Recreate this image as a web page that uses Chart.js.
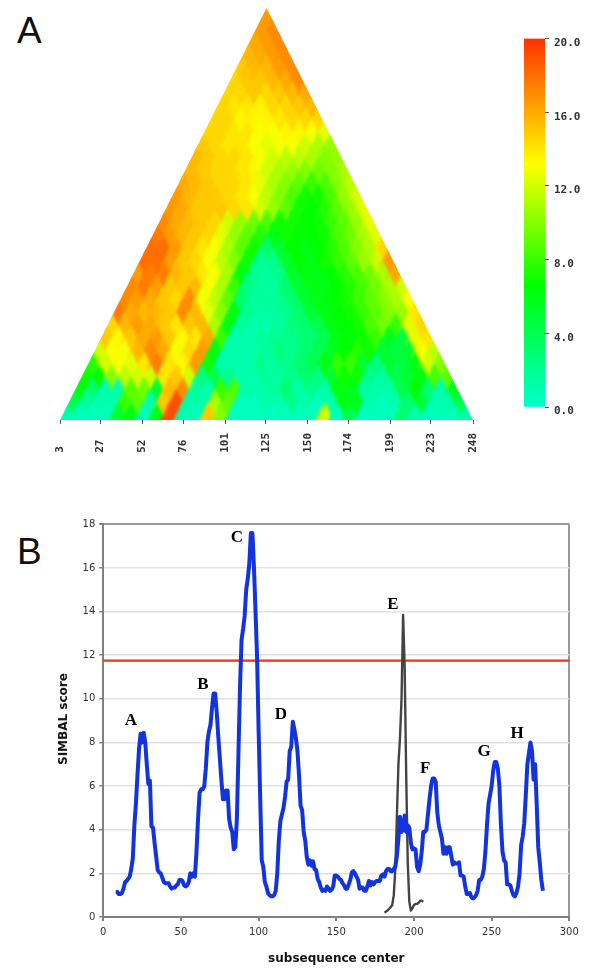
<!DOCTYPE html>
<html>
<head>
<meta charset="utf-8">
<title>SIMBAL</title>
<script src="https://cdn.jsdelivr.net/npm/chart.js@4"></script>
<style>
  body { margin: 0; background: #fff; width: 600px; height: 977px; position: relative; overflow: hidden; }
  canvas { position: absolute; }
  .panel { position: absolute; left: 17px; font: 37px "Liberation Sans", sans-serif; color: #111; line-height: 37px; }
  .ytitle { position: absolute; left: 63px; top: 719px; transform: translate(-50%, -50%) rotate(-90deg); font: bold 12px "DejaVu Sans", sans-serif; color: #111; white-space: nowrap; }
</style>
</head>
<body>
<div class="panel" style="top:12px">A</div>
<div class="panel" style="top:533px">B</div>
<canvas id="heatChart" style="left:0;top:0"></canvas>
<canvas id="barChart" style="left:524px;top:27px"></canvas>
<canvas id="lineChart" style="left:0;top:510px"></canvas>
<div class="ytitle">SIMBAL score</div>
<script>
// panel A, triangle cells, top row first (row n has n+1 cells)
const heatRows = [
  [16.5],
  [16.5,17],
  [16,16.5,17],
  [15.5,16,16.5,17],
  [15,15.5,15.5,16.5,17],
  [14.5,15,15,15.5,16,17],
  [14.5,14.5,15,14.5,15,15.5,16],
  [14.5,14,14,13.5,14.5,14.5,15,15.5],
  [14.5,14.5,13.5,13.5,13.5,14,14.5,14.5,14.5],
  [14.5,14.5,14,14,13,13,13.5,13.5,13,12.5],
  [15,14.5,14,14,13,12.5,13,13,12,11,10.5],
  [15.5,15,14.5,14.5,14,13,12,11.5,11.5,11,10,10.5],
  [15.5,15,14.5,14.5,14,13.5,12,11,10.5,10,9.5,10,11],
  [16,15.5,15,14.5,14.5,14,12.5,11,10,9,8,8.5,10,11.5],
  [16.5,15.5,15,15,14.5,14,13,11.5,10,8.5,7,7,8.5,10.5,12],
  [16.5,16,15,15,15,14.5,14,12,10.5,9,7,6.5,7.5,9,10.5,12.5],
  [17,16,15.5,15,14.5,12,10.5,9.5,8.5,7,7,6.5,7,8,9,10.5,12.5],
  [17.5,16.5,15.5,15,14.5,12.5,10.5,9,7.5,6,7,6.5,6.5,7,8.5,9.5,11,12.5],
  [18,18,16.5,15,14,13,11,9,7,3,5,6.5,6,6.5,7.5,8.5,10,11,14.5],
  [18,18,16.5,15,14.5,13,11.5,10,7,2,2,5,6.5,6,7,8,9,10.5,12,16.5],
  [16.5,17.5,17.5,15.5,15,14,13,11,6,2,1.5,2,5,6,6,6.5,7.5,8.5,9.5,11,16],
  [17,17.5,16.5,15,15,15.5,13,11,8,2.5,1.5,1.5,3,5,6,6,6.5,7.5,8.5,9.5,11,12],
  [17,16.5,16,15,14.5,17,13,11.5,9,3,1.5,1.5,2,3,5,6,6.5,7,8,9,10,11,13],
  [17.5,16,15.5,15.5,15,17,15.5,12.5,10,6,2,1.5,1.5,2,3,5,6,6.5,7,8,9,10,10.5,14],
  [14.5,15.5,16.5,16,15,14,15,15.5,11,6,1.5,1,1,1.5,2.5,3,4,6,6.5,7,8.5,9.5,8,12.5,14.5],
  [15,13.5,15,16,16.5,15,13.5,14,16,8,1,1,1.5,2,2,2.5,3,4,6,6.5,7,8,5.5,4.5,12.5,14],
  [12,13,13,15.5,17,16,13,14.5,16.5,6,1,1,1,1.5,2.5,2,3,4,5.5,6.5,7.5,7,5,4.5,5,13,11.5],
  [7.5,12,13,12.5,14,17.5,14,13.5,16.5,7,1,1,1,2,1.5,2,3,4,6,8,8,5,2.5,5,4.5,6,12,10],
  [7,6.5,10,11.5,12,12,14,15,12,2.5,4,2,1,1,1.5,1.5,2,3,2.5,5,7,7,2,1.5,4,5,6,8.5,9],
  [6,3,1,1,9,9.5,5,15.5,17,1.5,1,8,8.5,1,1,1.5,3,1,2,1,6,6,1.5,1,1,4,6.5,3,1,5.5],
  [4,1.5,1,1,8,9,1,15,19,1,1,11,9,0.5,0.5,1,1,2,1,0.5,1,6,6,1,0.5,1,3,5,1,1,4],
  [1,0.5,0.5,0.5,5,6,0.5,6,19,1,0.5,15,10,0.5,0.5,0.5,0.5,0.5,0.5,0.5,12,0.5,4,0.5,0.5,0.5,3,1,0.5,0.5,0.5,1]
]
const heatTicks = [3,27,52,76,101,125,150,174,199,223,248]
const colorTicks = [0,4,8,12,16,20]
const colorStops = [[0,[0,255,204]],[6.6,[0,255,0]],[13.2,[255,255,0]],[20,[255,50,0]]]

// panel B
const blueX = [8,9,10,11,12,13,14,15,16,17,18,19,20,21,22,23,24,25,26,27,28,29,30,31,32,33,34,35,36,37,38,39,40,41,42,43,44,45,46,47,48,49,50,51,52,53,54,55,56,57,58,59,60,61,62,63,64,65,66,67,68,69,70,71,72,73,74,75,76,77,78,79,80,81,82,83,84,85,86,87,88,89,90,91,92,93,94,95,96,97,98,99,100,101,102,103,104,105,106,107,108,109,110,111,112,113,114,115,116,117,118,119,120,121,122,123,124,125,126,127,128,129,130,131,132,133,134,135,136,137,138,139,140,141,142,143,144,145,146,147,148,149,150,151,152,153,154,155,156,157,158,159,160,161,162,163,164,165,166,167,168,169,170,171,172,173,174,175,176,177,178,179,180,181,182,183,184,185,186,187,188,189,190,191,192,193,194,195,196,197,198,199,200,201,202,203,204,205,206,207,208,209,210,211,212,213,214,215,216,217,218,219,220,221,222,223,224,225,226,227,228,229,230,231,232,233,234,235,236,237,238,239,240,241,242,243,244,245,246,247,248,249,250,251,252,253,254,255,256,257,258,259,260,261,262,263,264,265,266,267,268,269,270,271,272,273,274,275,276,277,278,279,280,281,282,283]
const blueY = [1.15,1.15,1.05,1.05,1.1,1.3,1.6,1.65,1.75,1.85,2.2,2.7,4.2,5.2,6.5,7.7,8.4,8,8.45,8,7,6.1,6.25,4.15,4.1,3.4,2.8,2.15,2.05,2,1.8,1.6,1.55,1.55,1.55,1.4,1.3,1.35,1.35,1.45,1.5,1.7,1.7,1.65,1.45,1.4,1.45,1.6,2,1.85,2,1.85,3,4.5,5.7,5.85,5.85,6,6.8,8,8.5,8.8,9.6,10.25,10.25,9.4,8.3,7.3,6.3,5.4,5.4,5.8,5.8,4.5,4.1,3.9,3.1,3.2,4.5,7.5,10.5,12.7,13.2,13.8,15,15.5,16.2,17.6,17.6,16,14,11.9,8.5,5.5,2.6,2.3,1.6,1.4,1.1,1,0.95,0.95,1,1.2,2,3.5,4.4,4.7,5,5.5,6.2,6.3,7.6,7.8,8.95,8.6,8.2,7.6,6.5,5.1,4.9,3.9,3.5,2.75,2.4,2.6,2.35,2.55,2.2,2.15,1.75,1.6,1.35,1.2,1.25,1.2,1.4,1.3,1.2,1.25,1.4,1.9,1.9,1.85,1.75,1.7,1.55,1.45,1.3,1.3,1.5,1.7,2.05,2.1,2,1.85,1.7,1.3,1.35,1.35,1.2,1.2,1.4,1.65,1.45,1.6,1.5,1.6,1.65,1.65,1.65,1.9,1.95,1.85,2.1,2.2,2.2,2.1,2.1,2.2,2.3,2.8,3.6,4.6,3.9,4,4.65,3.9,4.2,4.1,3.4,3.1,3.15,3.1,2.3,2.1,2.4,3,3.9,3.9,4,4.7,5.4,6,6.35,6.35,6.2,4.8,4.2,3.9,3.6,2.9,3.2,2.9,3.2,3.2,2.8,2.4,2.5,2.45,2.45,2.5,1.9,1.9,1.85,1.4,1.05,1.05,1.1,0.9,0.85,0.9,1,1.2,1.7,1.7,1.85,2.2,3,4.2,5.2,5.6,6,6.7,7.1,7.1,6.8,6,4.2,3,2.6,2.5,1.5,1.5,1.45,1.2,1,0.95,1.1,1.4,2,3.3,3.7,4.3,5.6,7,7.5,8,7.6,6.3,7,5.2,3.2,2.5,1.7,1.2,0.9]
const greyX = [181,183,185,186,187,188,189,190,191,192,193,194,195,196,197,198,199,200,201,202,203,204,205,206]
const greyY = [0.2,0.3,0.45,0.55,1,2.2,4.6,7,8.2,10,13.85,11.5,6.5,2.5,0.7,0.3,0.4,0.55,0.6,0.6,0.65,0.75,0.75,0.7]
const cutoffX = [0,300]
const cutoffY = [11.75,11.75]
const peakNames = ["A","B","C","D","E","F","G","H"]
const peakX = [17.8,64.2,86,114.4,186.5,207.2,245.2,266.4]
const peakY = [8.98,10.63,17.4,9.26,14.3,6.78,7.56,8.39]

const monoFont = { family: "'DejaVu Sans Mono', monospace", size: 11, weight: "bold" }
const sansFont = { family: "'DejaVu Sans', sans-serif", size: 10 }

function heatColor(v) {
  for (let i = 1; i < colorStops.length; i++) {
    const [v0, c0] = colorStops[i - 1]
    const [v1, c1] = colorStops[i]
    if (v <= v1) {
      const t = (v - v0) / (v1 - v0)
      return "rgb(" + c0.map((c, k) => Math.round(c + (c1[k] - c) * t)).join(",") + ")"
    }
  }
  return "rgb(255,50,0)"
}

// one soft diamond sprite per colour, used as the point style of the cells
const sprites = {}
function cellSprite(v) {
  if (sprites[v]) return sprites[v]
  const s = document.createElement("canvas")
  s.width = 26
  s.height = 46
  const c = s.getContext("2d")
  c.filter = "blur(1.5px)"
  c.fillStyle = heatColor(v)
  c.beginPath()
  c.moveTo(13, 23 - 18)
  c.lineTo(13 + 9, 23)
  c.lineTo(13, 23 + 18)
  c.lineTo(13 - 9, 23)
  c.closePath()
  c.fill()
  sprites[v] = s
  return s
}

const nRows = heatRows.length
const xStep = (heatTicks[heatTicks.length - 1] - heatTicks[0]) / nRows
const xMid = (heatTicks[0] + heatTicks[heatTicks.length - 1]) / 2
const heatPoints = []
heatRows.forEach((row, r) => {
  row.forEach((v, c) => {
    heatPoints.push({ x: xMid + (c - r / 2) * xStep, y: nRows - 1 - r, v: v })
  })
})

const triangleClip = {
  id: "triangleClip",
  beforeDatasetsDraw(chart) {
    const { ctx, scales } = chart
    ctx.save()
    ctx.beginPath()
    ctx.moveTo(scales.x.getPixelForValue(scales.x.min), scales.y.getPixelForValue(0))
    ctx.lineTo(scales.x.getPixelForValue(xMid), scales.y.getPixelForValue(nRows))
    ctx.lineTo(scales.x.getPixelForValue(scales.x.max), scales.y.getPixelForValue(0))
    ctx.closePath()
    ctx.clip()
  },
  afterDatasetsDraw(chart) {
    chart.ctx.restore()
  }
}

const heatCanvas = document.getElementById("heatChart")
heatCanvas.width = 500
heatCanvas.height = 470
new Chart(heatCanvas, {
  type: "scatter",
  data: { datasets: [{ data: heatPoints, clip: 0, pointStyle: c => cellSprite(c.raw.v), pointRadius: 7 }] },
  plugins: [triangleClip],
  options: {
    responsive: false,
    animation: false,
    layout: { padding: { left: 60, right: 27, top: 6, bottom: 0 } },
    plugins: { legend: { display: false }, tooltip: { enabled: false } },
    scales: {
      x: {
        type: "linear",
        min: heatTicks[0],
        max: heatTicks[heatTicks.length - 1],
        afterBuildTicks: s => { s.ticks = heatTicks.map(v => ({ value: v })) },
        afterFit: s => { s.height = 50 },
        border: { display: false },
        grid: { drawOnChartArea: false, tickLength: 4, color: "#555" },
        ticks: {
          autoSkip: false, minRotation: 90, maxRotation: 90, padding: 9,
          font: monoFont, color: "#333",
          callback: v => String(v).padEnd(3, " ")
        }
      },
      y: { type: "linear", display: false, min: 0, max: nRows }
    }
  }
})

const barCanvas = document.getElementById("barChart")
barCanvas.width = 76
barCanvas.height = 393
new Chart(barCanvas, {
  type: "bar",
  data: {
    labels: [""],
    datasets: [{
      data: [[colorTicks[0], colorTicks[colorTicks.length - 1]]],
      categoryPercentage: 1,
      barPercentage: 1,
      backgroundColor: c => {
        const area = c.chart.chartArea
        if (!area) return "#0f0"
        const g = c.chart.ctx.createLinearGradient(0, area.bottom, 0, area.top)
        colorStops.forEach(s => g.addColorStop(s[0] / 20, heatColor(s[0])))
        return g
      }
    }]
  },
  options: {
    responsive: false,
    animation: false,
    layout: { padding: { left: 0, right: 0, top: 0, bottom: 13 } },
    plugins: { legend: { display: false }, tooltip: { enabled: false } },
    scales: {
      x: { display: false },
      y: {
        position: "right",
        min: 0,
        max: 20,
        afterBuildTicks: s => { s.ticks = colorTicks.map(v => ({ value: v })) },
        afterFit: s => { s.width = 55 },
        border: { display: false },
        grid: { drawOnChartArea: false, tickLength: 4, color: "#555" },
        ticks: { padding: 5, labelOffset: 4.5, font: monoFont, color: "#333", callback: v => v.toFixed(1) }
      }
    }
  }
})

const peakLabels = {
  id: "peakLabels",
  afterDatasetsDraw(chart) {
    const { ctx, scales } = chart
    ctx.save()
    ctx.font = "bold 17px 'Liberation Serif', serif"
    ctx.fillStyle = "#000"
    ctx.textAlign = "center"
    ctx.textBaseline = "middle"
    peakNames.forEach((n, i) => {
      ctx.fillText(n, scales.x.getPixelForValue(peakX[i]), scales.y.getPixelForValue(peakY[i]))
    })
    ctx.restore()
  }
}

function toPoints(xs, ys) {
  return xs.map((x, i) => ({ x: x, y: ys[i] }))
}

const lineCanvas = document.getElementById("lineChart")
lineCanvas.width = 600
lineCanvas.height = 467
new Chart(lineCanvas, {
  type: "line",
  data: {
    datasets: [
      { data: toPoints(blueX, blueY), borderColor: "#1233e0", borderWidth: 4, borderJoinStyle: "round", pointRadius: 0, tension: 0 },
      { data: toPoints(greyX, greyY), borderColor: "#444", borderWidth: 2.4, borderJoinStyle: "round", pointRadius: 0, tension: 0 },
      { data: toPoints(cutoffX, cutoffY), borderColor: "#ee3018", borderWidth: 2.4, pointRadius: 0 }
    ]
  },
  plugins: [peakLabels],
  options: {
    responsive: false,
    animation: false,
    parsing: false,
    layout: { padding: { left: 0, right: 30.7, top: 14.3, bottom: 11 } },
    plugins: { legend: { display: false }, tooltip: { enabled: false } },
    scales: {
      x: {
        type: "linear",
        min: 0,
        max: 300,
        afterFit: s => { s.height = 49 },
        border: { color: "#808080", width: 2 },
        grid: {
          tickLength: 4,
          tickColor: "#808080",
          lineWidth: 2,
          color: c => c.tick && c.tick.value === 300 ? "#999" : "rgba(0,0,0,0)"
        },
        ticks: { stepSize: 50, padding: 5, font: sansFont, color: "#333" },
        title: {
          display: true,
          text: "subsequence center",
          font: { family: "'DejaVu Sans', sans-serif", size: 12, weight: "bold" },
          color: "#111",
          padding: { top: 10, bottom: 0 }
        }
      },
      y: {
        min: 0,
        max: 18,
        afterFit: s => { s.width = 103.3 },
        border: { color: "#808080", width: 2 },
        grid: {
          tickLength: 4,
          tickColor: "#808080",
          lineWidth: c => c.tick && c.tick.value === 18 ? 2 : 1.5,
          color: c => c.tick && c.tick.value === 18 ? "#999" : "#e2e2e2"
        },
        ticks: { stepSize: 2, padding: 4, font: sansFont, color: "#333" }
      }
    }
  }
})
</script>
</body>
</html>
